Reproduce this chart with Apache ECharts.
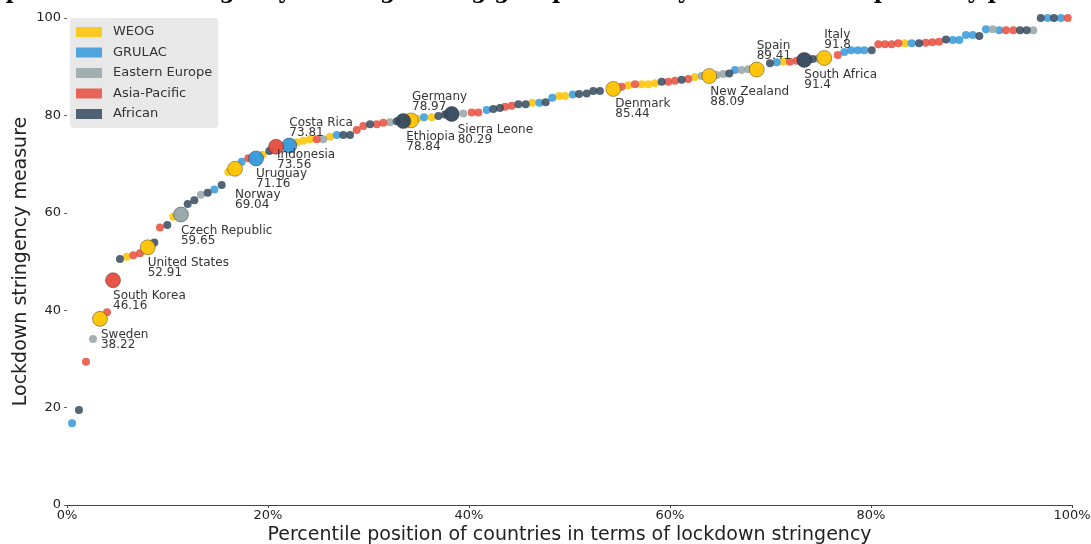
<!DOCTYPE html>
<html>
<head>
<meta charset="utf-8">
<script src="https://cdn.jsdelivr.net/npm/echarts@6/dist/echarts.min.js"></script>
<style>
html,body{margin:0;padding:0;background:#fff;}
#chart{width:1091px;height:544px;}
</style>
</head>
<body>
<div id="chart"></div>
<script>
// ---- data ----
var titleText = 'Top: lockdown stringency ranking among groups with key countries compared by percentile';
var groupCodes = ['W', 'G', 'E', 'P', 'A'];
var groupNames = ['WEOG', 'GRULAC', 'Eastern Europe', 'Asia-Pacific', 'African'];
var groupColors = ['#ffc300', '#3498db', '#95a5a6', '#e74c3c', '#34495e'];

var pctX = [0.50,1.19,1.89,2.59,3.98,5.27,5.94,6.60,7.26,8.69,9.25,9.98,10.58,12.01,12.67,13.33,14.00,14.66,15.39,16.05,17.38,18.04,19.47,20.13,22.86,23.51,24.18,24.85,25.50,26.17,26.84,27.49,28.16,28.83,29.48,30.15,30.82,31.47,32.14,32.81,34.86,35.52,36.29,36.95,37.61,39.43,40.27,40.93,41.76,42.42,43.08,43.58,44.25,44.91,45.64,46.30,47.00,47.63,48.29,48.96,49.55,50.32,50.95,51.71,52.37,53.03,55.19,55.85,56.52,57.18,57.84,58.51,59.17,59.83,60.50,61.16,61.82,62.49,63.15,64.65,65.30,65.90,66.47,67.13,67.79,69.95,70.62,71.27,71.94,72.61,74.20,74.76,76.69,77.34,78.01,78.68,79.33,80.07,80.73,81.39,82.06,82.72,83.38,84.05,84.78,85.44,86.10,86.77,87.46,88.13,88.79,89.45,90.12,90.78,91.44,92.11,92.77,93.43,94.16,94.83,95.49,96.15,96.89,97.58,98.21,98.91,99.57];
var stringency = [16.8,19.5,29.4,34.1,39.6,50.5,51.0,51.3,51.7,53.9,57.0,57.5,59.2,61.8,62.6,63.7,64.1,64.8,65.7,68.4,70.5,71.2,71.9,72.7,74.5,74.8,75.1,75.1,75.1,75.6,76.0,76.0,76.0,77.0,77.8,78.2,78.2,78.5,78.6,78.8,79.3,79.6,79.6,79.9,80.2,80.4,80.6,80.6,81.1,81.3,81.5,81.8,82.0,82.3,82.3,82.6,82.6,82.7,83.6,84.0,84.0,84.3,84.4,84.5,85.0,85.0,85.9,86.2,86.4,86.4,86.4,86.6,86.9,86.9,87.1,87.3,87.5,87.9,88.1,88.3,88.5,88.6,89.3,89.3,89.5,90.7,90.9,91.0,91.0,91.2,91.6,91.7,92.4,93.0,93.4,93.4,93.4,93.4,94.6,94.6,94.6,94.8,94.8,94.8,94.8,94.9,95.0,95.1,95.6,95.5,95.5,96.5,96.5,96.3,97.7,97.7,97.5,97.5,97.5,97.5,97.5,97.5,100,100,100,100,100];
var pointGroup = ['G','A','P','E','P','A','W','P','P','A', 'P','A','W','A','A','E','A','G','A','W', 'G','P','W','A','W','W','W','P','E','W', 'G','A','A','P','P','A','P','P','E','A', 'W','G','W','A','A','E','P','P','G','A', 'A','P','P','A','A','W','G','A','G','W', 'W','G','A','A','A','A','P','W','P','W', 'W','W','A','P','P','A','P','W','E','E', 'E','A','G','E','E','A','G','W','P','P', 'A','E','P','G','G','G','G','A','P','P', 'P','P','W','G','A','P','P','P','A','G', 'G','G','G','A','G','E','G','P','P','A', 'A','E','A','G','A','G','P'];

var hlNames = ['Sweden','South Korea','United States','Czech Republic','Norway','Uruguay','Indonesia','Costa Rica','Ethiopia','Germany','Sierra Leone','Denmark','New Zealand','Spain','South Africa','Italy'];
var hlX = [3.28,4.58,8.03,11.34,16.72,18.81,20.80,22.12,33.46,34.23,38.28,54.36,63.91,68.63,73.36,75.35];
var hlY = [38.22,46.16,52.91,59.65,69.04,71.16,73.56,73.81,78.84,78.97,80.29,85.44,88.09,89.41,91.4,91.8];
var hlGroup = ['W','P','W','E','W','G','P','G','A','W','A','W','W','W','A','W'];

var xTicks = [0, 20, 40, 60, 80, 100];

// ---- layout / style (not data) ----
var labelOffsets = {
  'Sweden':[1,21], 'South Korea':[0,21], 'United States':[0,21], 'Czech Republic':[0,21],
  'Norway':[0,31], 'Uruguay':[0,20], 'Indonesia':[1,13], 'Costa Rica':[0,-18],
  'Ethiopia':[3,21], 'Germany':[1,-19], 'Sierra Leone':[6,21], 'Denmark':[2,20],
  'New Zealand':[1,21], 'Spain':[0,-19], 'South Africa':[0,20], 'Italy':[0,-18]
};
var FONT = 'DejaVu Sans';

var series = [];
groupCodes.forEach(function (code, gi) {
  var pts = [];
  for (var i = 0; i < pctX.length; i++) {
    if (pointGroup[i] === code) pts.push([pctX[i], stringency[i]]);
  }
  series.push({
    type: 'scatter', name: groupNames[gi], data: pts, symbolSize: 8, z: 2,
    itemStyle: { color: groupColors[gi], opacity: 0.85 },
    emphasis: { disabled: true }
  });
});
groupCodes.forEach(function (code, gi) {
  var pts = [];
  for (var i = 0; i < hlX.length; i++) {
    if (hlGroup[i] !== code) continue;
    var off = labelOffsets[hlNames[i]] || [0, 20];
    pts.push({
      name: hlNames[i], value: [hlX[i], hlY[i]],
      label: {
        show: true, position: 'inside', align: 'left', verticalAlign: 'middle',
        offset: off, formatter: hlNames[i] + '\n' + hlY[i],
        color: '#2b2b2b', fontFamily: FONT, fontSize: 12, lineHeight: 10
      }
    });
  }
  series.push({
    type: 'scatter', name: groupNames[gi], data: pts, symbolSize: 15, z: 5,
    itemStyle: { color: groupColors[gi], opacity: 0.95, borderColor: 'rgba(40,40,40,0.45)', borderWidth: 1 },
    emphasis: { disabled: true }
  });
});

var chart = echarts.init(document.getElementById('chart'), null, { renderer: 'canvas' });
chart.setOption({
  animation: false,
  backgroundColor: '#ffffff',
  graphic: [{
    type: 'text', x: 545, y: 3, silent: true,
    style: {
      text: titleText, align: 'center', verticalAlign: 'bottom',
      textAlign: 'center', textVerticalAlign: 'bottom',
      font: 'bold 22px "DejaVu Serif"', fill: '#000'
    }
  }],
  grid: { left: 67, right: 19, top: 18, bottom: 39, containLabel: false, outerBoundsMode: 'none' },
  legend: {
    data: groupNames, left: 70, top: 18, orient: 'vertical',
    backgroundColor: '#e8e8e8', borderRadius: 4, padding: [7, 6, 7, 6],
    itemWidth: 26, itemHeight: 10, itemGap: 6.5, icon: 'rect',
    textStyle: { fontFamily: FONT, fontSize: 13, color: '#333', padding: [0, 0, 0, 6], lineHeight: 14 },
    selectedMode: false
  },
  xAxis: {
    type: 'value', min: xTicks[0], max: xTicks[xTicks.length - 1], interval: 20,
    name: 'Percentile position of countries in terms of lockdown stringency',
    nameLocation: 'middle', nameGap: 21, nameMoveOverlap: false,
    nameTextStyle: { fontFamily: FONT, fontSize: 19, color: '#222' },
    axisLine: { lineStyle: { color: '#444', width: 1.2 } },
    axisTick: { show: true, length: 3, lineStyle: { color: '#444' } },
    axisLabel: { formatter: '{value}%', fontFamily: FONT, fontSize: 13, color: '#222', margin: 4 },
    splitLine: { show: false }
  },
  yAxis: {
    type: 'value', min: 0, max: 100, interval: 20,
    name: 'Lockdown stringency measure', nameLocation: 'middle', nameGap: 36, nameMoveOverlap: false,
    nameTextStyle: { fontFamily: FONT, fontSize: 19, color: '#222' },
    axisLine: { show: false },
    axisTick: { show: true, length: 3, lineStyle: { color: '#666' } },
    axisLabel: { fontFamily: FONT, fontSize: 13, color: '#222', margin: 6 },
    splitLine: { show: false }
  },
  series: series
});
</script>
</body>
</html>
